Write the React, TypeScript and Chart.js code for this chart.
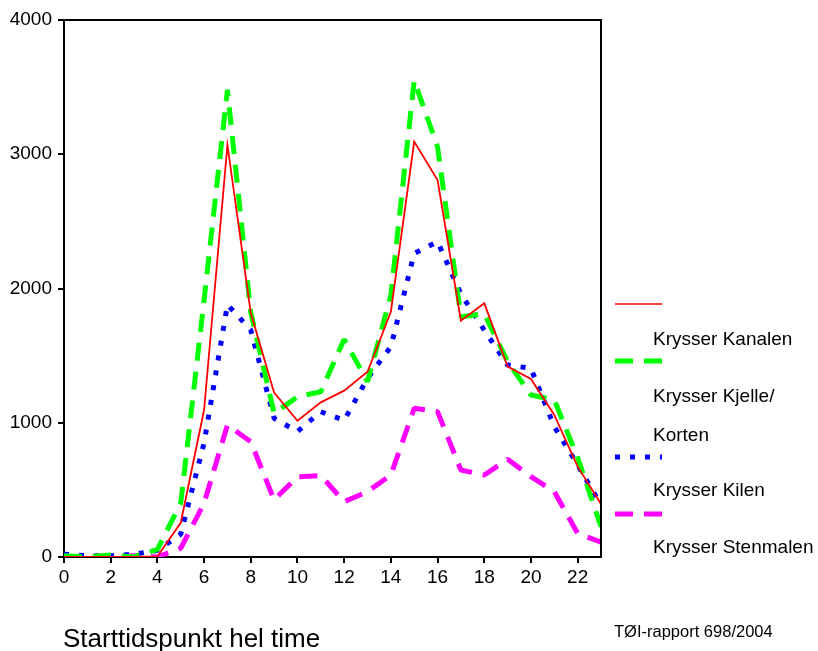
import React, { useEffect, useRef } from "react";
import { Chart, registerables } from "chart.js";

Chart.register(...registerables);

const hours = [0, 1, 2, 3, 4, 5, 6, 7, 8, 9, 10, 11, 12, 13, 14, 15, 16, 17, 18, 19, 20, 21, 22, 23];
const kanalen = [0, 0, 0, 0, 5, 255, 1095, 3069, 1817, 1224, 1015, 1152, 1239, 1380, 1827, 3094, 2808, 1760, 1890, 1418, 1326, 1058, 673, 395];
const kjelle = [10, 0, 15, 0, 57, 400, 1914, 3480, 1820, 1070, 1194, 1231, 1621, 1306, 1950, 3550, 3054, 1790, 1813, 1455, 1207, 1170, 740, 226];
const kilen = [20, 10, 10, 20, 50, 170, 850, 1880, 1690, 1033, 934, 1082, 1018, 1331, 1567, 2262, 2349, 1960, 1690, 1430, 1405, 971, 685, 387];
const stenmalen = [0, 0, 0, 10, 0, 65, 400, 983, 859, 425, 598, 606, 412, 487, 611, 1108, 1083, 648, 611, 728, 598, 487, 176, 110];
const seriesNames = ["Krysser Kanalen", "Krysser Kjelle/\nKorten", "Krysser Kilen", "Krysser Stenmalen"];
const xTitle = "Starttidspunkt hel time";
const sourceText = "TØI-rapport 698/2004";

const FONT = "'Liberation Sans', Arial, sans-serif";

const styles = [
  { color: "#ff0000", width: 1.8, dash: [] as number[] },
  { color: "#00ff00", width: 5, dash: [18, 11] },
  { color: "#0000ff", width: 5, dash: [5, 10] },
  { color: "#ff00ff", width: 5, dash: [18, 11] },
];

const decorPlugin = {
  id: "decor",
  afterDraw(chart: any) {
    const ctx = chart.ctx as CanvasRenderingContext2D;
    const a = chart.chartArea;
    ctx.save();
    ctx.strokeStyle = "#000";
    ctx.lineWidth = 2;
    ctx.beginPath();
    ctx.moveTo(a.left, a.top);
    ctx.lineTo(a.right, a.top);
    ctx.lineTo(a.right, a.bottom);
    ctx.stroke();

    const sampleY = [304, 361, 457, 514];
    const textBase = [[345], [401.5, 441], [496], [552.5]];
    ctx.font = `19px ${FONT}`;
    ctx.fillStyle = "#000";
    ctx.textBaseline = "alphabetic";
    ctx.textAlign = "left";
    seriesNames.forEach((name, i) => {
      const st = styles[i];
      ctx.beginPath();
      ctx.strokeStyle = st.color;
      ctx.lineWidth = i === 0 ? 1.5 : st.width;
      ctx.setLineDash(st.dash);
      ctx.moveTo(615, sampleY[i]);
      ctx.lineTo(662, sampleY[i]);
      ctx.stroke();
      ctx.setLineDash([]);
      const lines = name.split("\n");
      lines.forEach((ln, j) => ctx.fillText(ln, 653, textBase[i][j]));
    });

    ctx.font = `26px ${FONT}`;
    ctx.fillText(xTitle, 63, 647);
    ctx.font = `16.5px ${FONT}`;
    ctx.fillText(sourceText, 614, 637);
    ctx.restore();
  },
};

export default function App() {
  const ref = useRef<HTMLCanvasElement | null>(null);
  useEffect(() => {
    if (!ref.current) return;
    const allSeries = [kanalen, kjelle, kilen, stenmalen];
    const chart = new Chart(ref.current, {
      type: "line",
      data: {
        datasets: allSeries.map((s, i) => ({
          label: seriesNames[i],
          data: hours.map((h, k) => ({ x: h, y: s[k] })),
          borderColor: styles[i].color,
          borderWidth: styles[i].width,
          borderDash: styles[i].dash,
          borderCapStyle: "butt",
          borderJoinStyle: i === 0 ? "miter" : "bevel",
          pointRadius: 0,
          tension: 0,
          fill: false,
        })),
      },
      options: {
        responsive: false,
        animation: false,
        events: [],
        layout: { padding: { left: 0, top: 20, right: 217, bottom: 0 } },
        plugins: { legend: { display: false }, tooltip: { enabled: false } },
        scales: {
          x: {
            type: "linear",
            min: 0,
            max: 23,
            afterFit: (s: any) => {
              s.height = 94;
            },
            ticks: {
              stepSize: 2,
              includeBounds: false,
              color: "#000",
              padding: 3,
              font: { family: FONT, size: 19 },
              maxRotation: 0,
              callback: (v: any) => String(v),
            },
            grid: { drawOnChartArea: false, drawTicks: true, tickLength: 6, color: "#000", lineWidth: 2 },
            border: { display: true, color: "#000", width: 2 },
          },
          y: {
            min: 0,
            max: 4000,
            afterFit: (s: any) => {
              s.width = 64;
            },
            ticks: {
              stepSize: 1000,
              color: "#000",
              padding: 6,
              font: { family: FONT, size: 19 },
              callback: (v: any) => String(v),
            },
            grid: { drawOnChartArea: false, drawTicks: true, tickLength: 6, color: "#000", lineWidth: 2 },
            border: { display: true, color: "#000", width: 2 },
          },
        },
      },
      plugins: [decorPlugin],
    } as any);
    return () => chart.destroy();
  }, []);
  return (
    <div style={{ position: "fixed", left: 0, top: 0, width: 818, height: 651, background: "#fff" }}>
      <canvas ref={ref} width={818} height={651} style={{ display: "block" }} />
    </div>
  );
}
